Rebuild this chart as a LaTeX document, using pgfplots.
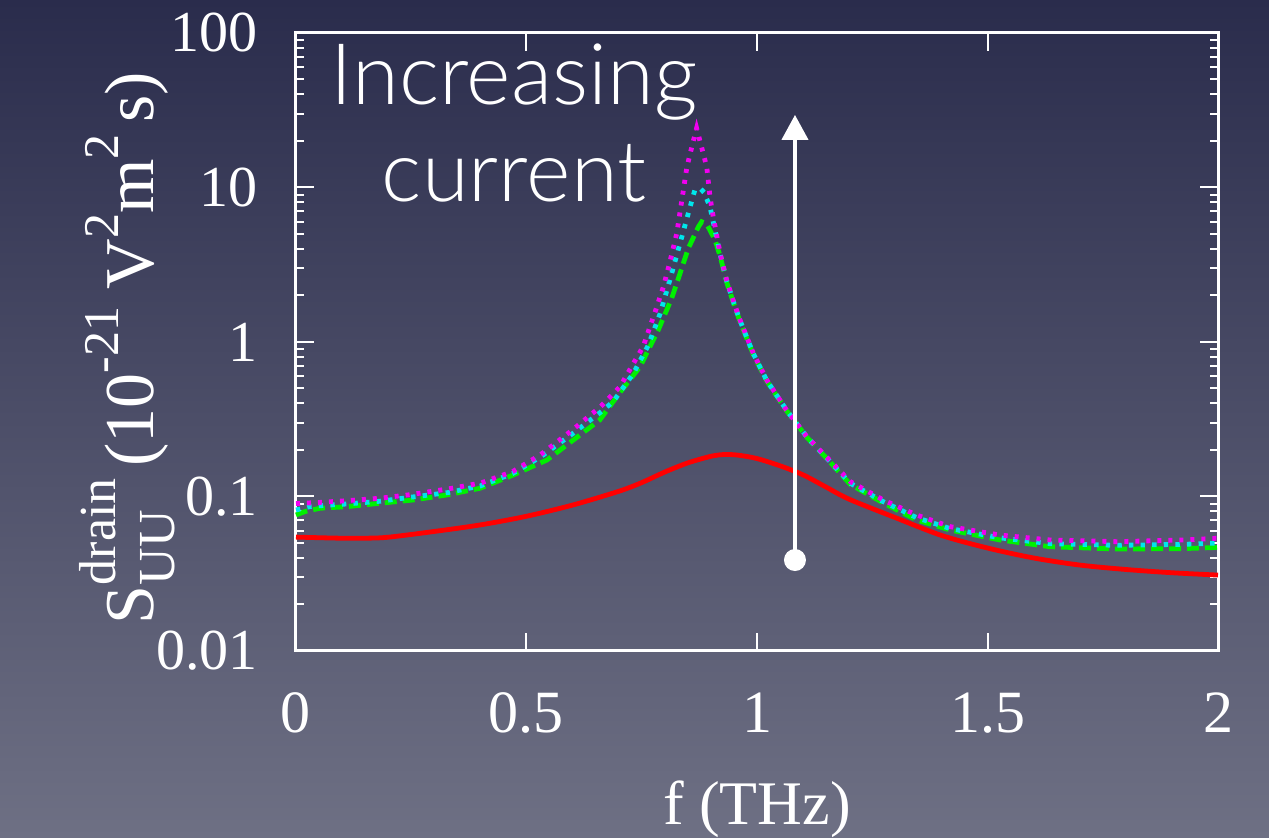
\documentclass[border=0pt]{standalone}
\usepackage{fontspec}
\setmainfont{Liberation Serif}
\IfFontExistsTF{Lato Light}{\newfontfamily\lightsans{Lato Light}}{\newfontfamily\lightsans{Liberation Sans}}
\usepackage{graphicx}
\usepackage{pgfplots}
\pgfplotsset{compat=1.18}
\usepackage{pgfplotstable}
\usetikzlibrary{arrows.meta}
\definecolor{bgtop}{RGB}{42,44,76}
\definecolor{bgbot}{RGB}{110,112,132}
\definecolor{cred}{RGB}{255,0,0}
\definecolor{cgreen}{RGB}{0,240,0}
\definecolor{ccyan}{RGB}{0,230,235}
\definecolor{cmag}{RGB}{240,0,240}
\newcommand{\sups}[1]{\raisebox{0.5em}{\fontsize{25}{25}\selectfont #1}}

\pgfplotstableread{
f S
0.00 0.0546
0.05 0.0541
0.10 0.0537
0.15 0.0537
0.20 0.0545
0.30 0.0594
0.40 0.0655
0.50 0.0745
0.60 0.0880
0.70 0.1080
0.75 0.1230
0.80 0.1440
0.85 0.1650
0.90 0.1820
0.93 0.1870
0.96 0.1850
1.00 0.1760
1.05 0.1580
1.10 0.1380
1.15 0.1150
1.20 0.0960
1.30 0.0730
1.40 0.0560
1.50 0.0464
1.60 0.0400
1.70 0.0360
1.80 0.0337
1.90 0.0321
2.00 0.0310
}\redtab

\pgfplotstableread{
f S
0.000 0.0759
0.020 0.0800
0.052 0.0839
0.110 0.0859
0.182 0.0904
0.254 0.0949
0.327 0.1023
0.399 0.1130
0.471 0.1377
0.544 0.1720
0.600 0.2300
0.659 0.3130
0.700 0.4600
0.746 0.6900
0.786 1.2000
0.815 1.9200
0.833 2.7800
0.851 4.0400
0.873 5.5700
0.880 6.0000
0.891 5.8000
0.909 4.5700
0.920 3.6000
0.934 2.4500
0.948 1.8300
0.963 1.3600
0.992 0.8300
1.021 0.5600
1.064 0.3600
1.108 0.2420
1.150 0.1780
1.202 0.1200
1.274 0.0908
1.346 0.0705
1.419 0.0607
1.527 0.0523
1.636 0.0473
1.780 0.0457
1.925 0.0460
2.000 0.0468
}\greentab

\pgfplotstableread{
f S
0.000 0.0818
0.030 0.0860
0.070 0.0880
0.100 0.0890
0.180 0.0930
0.250 0.0990
0.330 0.1060
0.400 0.1170
0.470 0.1410
0.530 0.1800
0.600 0.2550
0.660 0.3500
0.688 0.4110
0.732 0.6270
0.764 0.9500
0.790 1.5300
0.811 2.5200
0.829 3.9400
0.847 6.1600
0.865 9.6000
0.876 9.9000
0.885 9.3000
0.898 7.5000
0.905 6.0000
0.920 3.7000
0.934 2.5000
0.948 1.8500
0.963 1.3800
0.992 0.8400
1.021 0.5650
1.064 0.3620
1.108 0.2430
1.150 0.1790
1.202 0.1220
1.274 0.0925
1.346 0.0730
1.419 0.0620
1.527 0.0540
1.636 0.0495
1.780 0.0483
1.925 0.0490
2.000 0.0500
}\cyantab

\pgfplotstableread{
f S
0.000 0.0900
0.050 0.0915
0.100 0.0935
0.180 0.0973
0.250 0.1030
0.330 0.1120
0.400 0.1220
0.470 0.1450
0.530 0.1860
0.600 0.2700
0.660 0.3800
0.703 0.5140
0.730 0.7100
0.753 0.9330
0.780 1.6000
0.797 2.2800
0.810 3.2000
0.826 5.0500
0.848 13.600
0.860 19.000
0.869 24.200
0.878 19.100
0.891 13.600
0.898 8.7000
0.905 6.4700
0.920 3.7500
0.934 2.5200
0.948 1.8700
0.963 1.3900
0.992 0.8450
1.021 0.5680
1.064 0.3630
1.108 0.2440
1.150 0.1810
1.202 0.1250
1.274 0.0949
1.346 0.0759
1.419 0.0638
1.527 0.0563
1.636 0.0523
1.780 0.0510
1.925 0.0523
2.000 0.0537
}\magtab

\begin{document}
\begin{tikzpicture}
\shade[top color=bgtop, bottom color=bgbot] (-148pt,-93.5pt) rectangle (486.5pt,325.5pt);
\begin{axis}[
  at={(0,0)}, anchor=south west,
  scale only axis, width=461pt, height=309pt,
  xmin=0, xmax=2, ymode=log, ymin=0.01, ymax=100,
  xtick={0,0.5,1,1.5,2}, xticklabels={0,0.5,1,1.5,2},
  ytick={0.01,0.1,1,10,100}, yticklabels={0.01,0.1,1,10,100},
  minor x tick num=0,
  tick align=inside, tick pos=both,
  major tick length=9pt, minor tick length=4pt,
  every tick/.style={white, line width=1pt},
  axis line style={white, line width=1.5pt},
  /pgf/number format/assume math mode=true,
  xticklabel style={font=\fontsize{30}{30}\selectfont, text=white, anchor=north, inner sep=0pt, yshift=-20.5pt},
  yticklabel style={font=\fontsize{29}{29}\selectfont, text=white, anchor=east, inner sep=0pt, xshift=-19pt},
  xlabel={f (THz)},
  xlabel style={font=\fontsize{31}{31}\selectfont, text=white, at={([yshift=-87pt]axis description cs:0.5,0)}, anchor=base, inner sep=0pt},
  ylabel={S\rlap{\raisebox{-0.3em}{\fontsize{26}{26}\selectfont UU}}\raisebox{0.55em}{\fontsize{26}{26}\selectfont drain}\,(10\sups{-21} V\sups{2}m\sups{2}\,s)},
  ylabel style={font=\fontsize{35}{35}\selectfont, text=white, at={([xshift=-71pt,yshift=-3pt]axis description cs:0,0.5)}, anchor=base, inner sep=0pt},
  clip=false,
]
\addplot[cred, line width=2.4pt, smooth] table[x=f, y=S] {\redtab};
\addplot[cgreen, line width=2.4pt, dash pattern=on 6pt off 3pt] table[x=f, y=S] {\greentab};
\addplot[ccyan, line width=2.4pt, dash pattern=on 2.2pt off 3.6pt] table[x=f, y=S] {\cyantab};
\addplot[cmag, line width=2.4pt, dash pattern=on 2pt off 3.5pt] table[x=f, y=S] {\magtab};
\draw[white, line width=2pt, -{Triangle[width=13pt,length=12.5pt]}] (axis cs:1.0824,0.0388) -- (axis cs:1.0824,29.5);
\fill[white] (axis cs:1.0824,0.0388) circle (5.5pt);
\node[text=white, font=\lightsans\fontsize{42.5}{42.5}\selectfont, anchor=base, inner sep=0pt] at (axis cs:0.473,34.2) {Increasing};
\node[text=white, font=\lightsans\fontsize{42.5}{42.5}\selectfont, anchor=base, inner sep=0pt] at (axis cs:0.473,8.06) {current};
\end{axis}
\pgfresetboundingbox
\useasboundingbox (-148pt,-93.5pt) rectangle (486.5pt,325.5pt);
\end{tikzpicture}
\end{document}
